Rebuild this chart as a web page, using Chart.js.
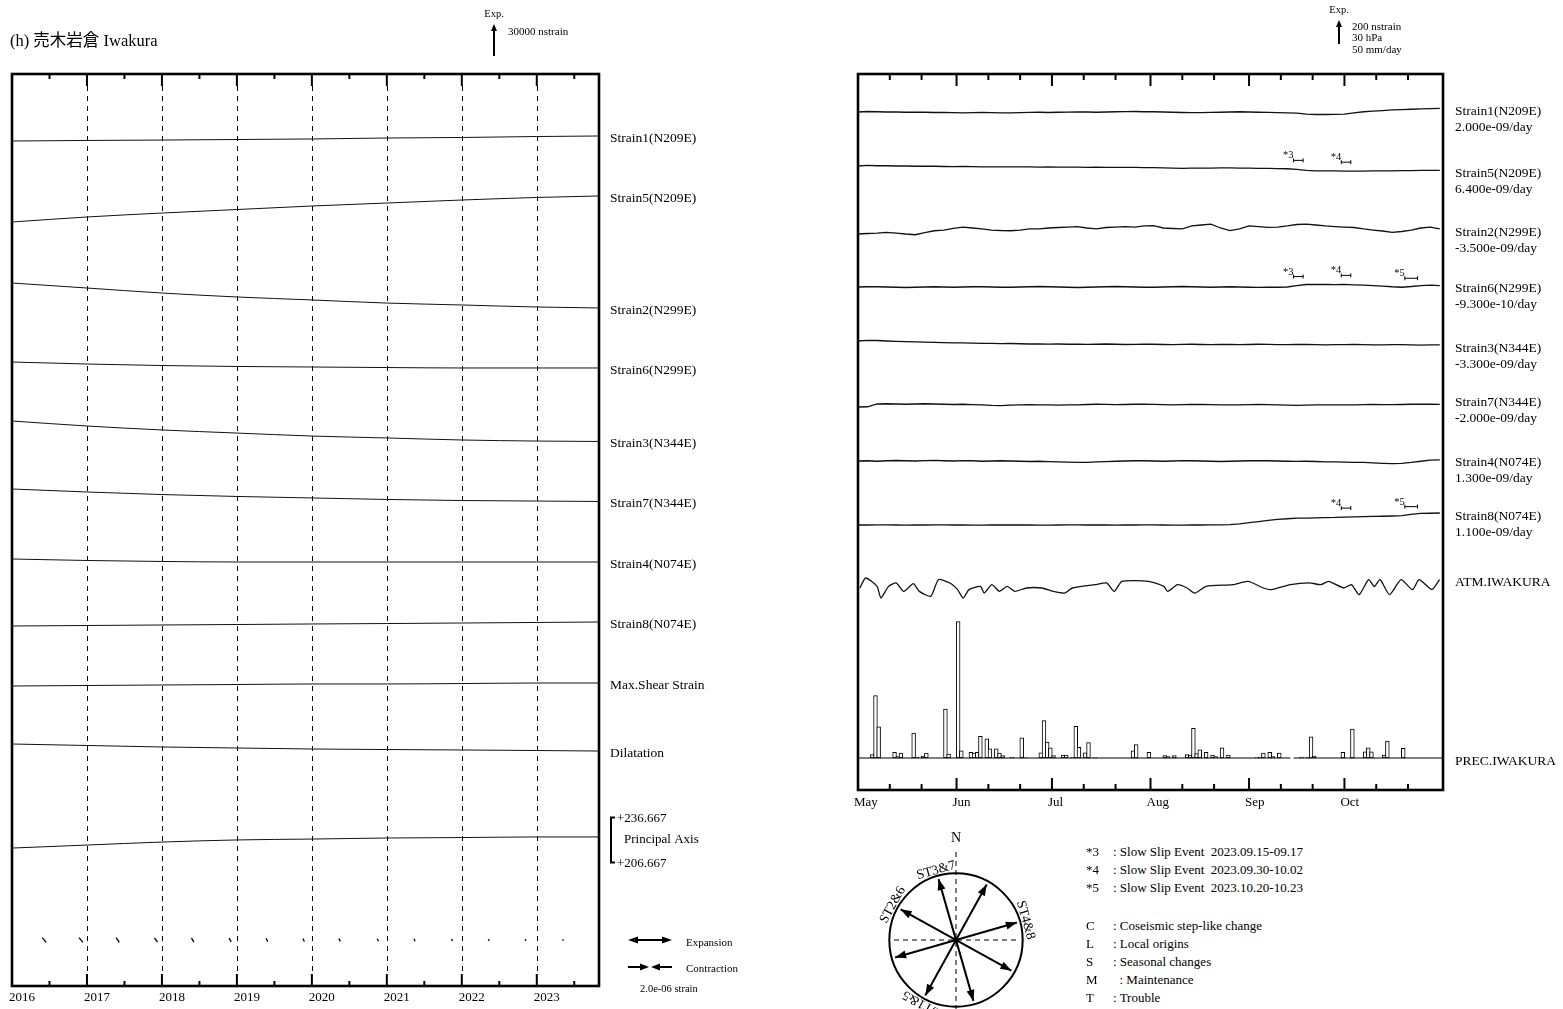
<!DOCTYPE html>
<html><head><meta charset="utf-8">
<script src="https://cdn.jsdelivr.net/npm/chart.js@4.4.0/dist/chart.umd.min.js"></script>
<style>
html,body{margin:0;padding:0;background:#fff;overflow:hidden;width:1563px;height:1009px;}
#wrap{position:relative;width:1563px;height:1009px;overflow:hidden;font-family:"Liberation Serif","Noto Sans CJK JP",serif;color:#000;}
.abs{position:absolute;white-space:nowrap;}
canvas{position:absolute;}
</style></head><body><div id="wrap">
<canvas id="left" width="780" height="1020" style="left:0;top:0"></canvas>
<canvas id="right" width="763" height="830" style="left:800px;top:0"></canvas>
<canvas id="compass" width="200" height="240" style="left:856px;top:820px"></canvas>
<div class="abs" style="left:10px;top:27px;font-size:16.5px;">(h) 売木岩倉 Iwakura</div>
<svg class="abs" style="left:620px;top:925px" width="70" height="55">
  <line x1="12" y1="15" x2="48" y2="15" stroke="#000" stroke-width="2"/>
  <polygon points="8,15 18,11.5 18,18.5" fill="#000"/>
  <polygon points="52,15 42,11.5 42,18.5" fill="#000"/>
  <line x1="8" y1="42" x2="24" y2="42" stroke="#000" stroke-width="2"/>
  <polygon points="29,42 20,38.5 20,45.5" fill="#000"/>
  <line x1="36" y1="42" x2="52" y2="42" stroke="#000" stroke-width="2"/>
  <polygon points="31,42 40,38.5 40,45.5" fill="#000"/>
</svg>
<div class="abs" style="left:686px;top:936px;font-size:11px;">Expansion</div>
<div class="abs" style="left:686px;top:962px;font-size:11px;">Contraction</div>
<div class="abs" style="left:640px;top:983px;font-size:10.5px;">2.0e-06 strain</div>
<div class="abs" style="left:1086px;top:843px;font-size:13px;line-height:18px;">*3<br>*4<br>*5</div>
<div class="abs" style="left:1113px;top:843px;font-size:13px;line-height:18px;">: Slow Slip Event&nbsp; 2023.09.15-09.17<br>: Slow Slip Event&nbsp; 2023.09.30-10.02<br>: Slow Slip Event&nbsp; 2023.10.20-10.23</div>
<div class="abs" style="left:1086px;top:917px;font-size:13px;line-height:18px;">C<br>L<br>S<br>M<br>T</div>
<div class="abs" style="left:1113px;top:917px;font-size:13px;line-height:18px;">: Coseismic step-like change<br>: Local origins<br>: Seasonal changes<br>&nbsp;&nbsp;: Maintenance<br>: Trouble</div>
</div>
<script>
// ================= DATA =================
// ---- Left panel (long term, 2016 - 2023.10), values in nstrain relative to start
const leftYears      = [2016, 2017, 2018, 2019, 2020, 2021, 2022, 2023, 2023.83];
const leftStrain1    = [0, 500, 900, 1400, 1900, 2800, 3300, 4200, 4700];
const leftStrain5    = [0, 4700, 8400, 11700, 15000, 17800, 20600, 23000, 24400];
const leftStrain2    = [0, -4700, -9400, -13100, -15900, -18800, -20600, -22500, -23400];
const leftStrain6    = [0, -1900, -3300, -4200, -4700, -5200, -5600, -5600, -5600];
const leftStrain3    = [0, -4700, -8400, -11300, -14100, -15900, -17800, -18800, -19200];
const leftStrain7    = [0, -2800, -5200, -7000, -8400, -9800, -10800, -11300, -11700];
const leftStrain4    = [0, -1400, -2300, -2800, -2800, -2800, -2800, -2800, -2800];
const leftStrain8    = [0, 470, 940, 1400, 1900, 2300, 2800, 3300, 3750];
const leftMaxShear   = [0, 470, 940, 1400, 1900, 1900, 2300, 2800, 2800];
const leftDilatation = [0, -1400, -2800, -3750, -4700, -5200, -5600, -6100, -6600];
const leftPrincipal  = [216.3, 218.3, 220.3, 221.7, 222.3, 223.0, 223.3, 223.7, 223.7]; // degrees
const leftNames = ['Strain1(N209E)','Strain5(N209E)','Strain2(N299E)','Strain6(N299E)','Strain3(N344E)',
                   'Strain7(N344E)','Strain4(N074E)','Strain8(N074E)','Max.Shear Strain','Dilatation'];
const yearTicks = [2016, 2017, 2018, 2019, 2020, 2021, 2022, 2023];
const paTop = 236.667, paBottom = 206.667;
// principal strain marks
const psYears = [2016.43, 2016.92, 2017.41, 2017.92, 2018.41, 2018.91, 2019.40, 2019.89, 2020.37, 2020.88, 2021.37, 2021.87, 2022.36, 2022.85, 2023.35];
const psMag   = [2.9e-7, 2.8e-7, 2.5e-7, 2.4e-7, 2.2e-7, 2.0e-7, 1.8e-7, 1.6e-7, 1.5e-7, 1.3e-7, 1.2e-7, 1.1e-7, 1.0e-7, 0.9e-7, 0.8e-7];
const psAz    = [140, 140, 145, 145, 150, 150, 155, 155, 150, 150, 155, 155, 150, 150, 160];

// ---- Right panel (2023-05-01 .. 2023-10-31), day 0 = May 1; strain samples every 3 days, nstrain
const sampleStep = 3;
const rStrain1 = [0,4,2,0,0,-2,-2,-2,-4,-3,-5,-7,-5,-4,-6,-7,-7,-5,-3,-2,-4,-2,-1,1,0,-2,0,2,3,4,2,2,0,-2,-4,-6,-5,-3,-2,0,2,0,-2,-3,-5,-7,-10,-18,-21,-21,-19,-17,-8,2,8,12,17,20,23,26,28,30];
const rStrain5 = [0,6,2,2,0,0,-2,-2,-2,-4,-5,-4,-5,-7,-7,-7,-8,-7,-8,-9,-8,-9,-10,-10,-11,-10,-11,-12,-12,-12,-13,-14,-16,-17,-19,-18,-17,-17,-16,-15,-17,-18,-19,-20,-22,-23,-28,-37,-40,-40,-41,-43,-42,-42,-41,-41,-40,-39,-38,-37,-37,-36];
const rStrain2 = [0,4,8,14,8,0,-6,12,27,33,46,58,50,42,33,29,27,33,42,42,50,54,58,61,50,42,54,58,61,58,67,69,50,46,42,67,75,83,50,29,42,67,62,56,58,67,79,83,75,67,62,58,54,42,33,25,14,21,33,50,58,42];
const rStrain6 = [0,2,2,0,-2,-4,-2,0,2,0,-2,0,2,2,0,-2,-2,0,2,4,2,0,-2,-4,-2,0,2,4,2,0,-2,-2,0,2,4,2,0,-2,0,2,0,-2,-3,-2,-2,0,12,21,22,21,19,22,18,15,12,8,2,-2,4,12,15,12];
const rStrain3 = [0,6,4,0,-3,-6,-8,-10,-12,-14,-16,-15,-18,-20,-19,-22,-21,-23,-25,-24,-26,-25,-27,-26,-28,-27,-25,-27,-29,-28,-26,-27,-29,-30,-28,-27,-29,-31,-29,-28,-30,-29,-27,-28,-30,-31,-29,-28,-30,-32,-31,-30,-29,-31,-33,-32,-30,-31,-33,-34,-32,-33];
const rStrain7 = [-25,-23,0,2,0,-2,0,2,0,-2,-4,-2,-5,-8,-12,-13,-10,-7,-5,-7,-8,-10,-8,-7,-4,-2,-3,-5,-4,-2,-2,-3,-5,-7,-6,-4,-3,-5,-7,-7,-7,-5,-4,-6,-7,-9,-11,-10,-8,-7,-7,-8,-7,-5,-4,-5,-6,-4,-2,-2,-2,-3];
const rStrain4 = [0,2,-2,2,4,2,0,3,5,2,0,3,2,-2,0,2,0,-2,-4,-2,-5,-7,-10,-12,-11,-7,-5,-2,0,2,2,0,-2,0,3,2,0,-2,-4,-2,0,2,3,2,0,-2,-3,-2,-4,-7,-8,-10,-11,-12,-15,-19,-22,-20,-12,-2,7,10];
const rStrain8 = [0,0,1,1,0,-1,0,0,1,1,0,0,-1,-1,0,0,1,0,0,-1,-1,0,1,1,0,0,0,-1,0,0,1,1,0,-1,-1,0,0,1,1,3,10,19,29,38,47,52,57,58,60,62,63,66,68,70,72,73,75,78,88,97,98,100];
const rightNames = ['Strain1(N209E)','Strain5(N209E)','Strain2(N299E)','Strain6(N299E)','Strain3(N344E)','Strain7(N344E)','Strain4(N074E)','Strain8(N074E)'];
const rightRates = ['2.000e-09/day','6.400e-09/day','-3.500e-09/day','-9.300e-10/day','-3.300e-09/day','-2.000e-09/day','1.300e-09/day','1.100e-09/day'];
// atmospheric pressure (hPa, relative)
const atmDays = [0.6,2.4,6,7.2,9.6,12,14.4,17.4,19.3,22.9,25.3,28.9,31.3,33.1,34.9,38.5,39.7,42.1,44.5,46.9,49.3,53,57.8,61.4,65,67.4,74.6,78.2,80.6,83,91.4,96.2,97.4,100.5,103.5,105.9,109.5,117.9,122.7,127.5,130,136,142,145.6,148,152.8,155.2,157.6,160.6,162.4,164.2,167.2,170.8,174.4,176.5,180.5,182.9];
const atmHpa  = [0,12.5,2,-12.5,2,6.3,-4.2,5.4,-4.2,-10.4,10.4,6.3,-2,-12.5,-2,2,-6.3,4.2,-4.2,2,-4.2,0,0,-4.2,-6.3,0,4.2,6.3,-4.2,8.3,8.3,2,-4.2,4.2,0,-6.3,2,4.2,8.3,0,-2,4.2,6.3,4.2,8.3,0,4.2,-8.3,10.4,2,10.4,-8.3,10.4,-2,10.4,-2,10.4];
// daily precipitation (mm/day)
const precDays = [4,5,6,11,12,13,17,18,20,21,27,28,31,32,35,36,37,38,40,41,43,44,45,48,51,52,57,58,59,60,61,64,65,67,68,69,71,72,74,86,87,91,96,97,99,103,104,105,106,107,109,111,112,114,116,125,126,127,129,130,132,139,141,142,143,152,155,159,160,161,165,166,171];
const precMm   = [7,130,65,12,3,10,52,2,4,10,102,8,284,15,12,10,12,45,40,19,19,10,5,2,42,1,11,78,33,21,5,6,6,2,66,22,11,32,1,15,28,12,5,3,5,7,6,62,9,17,12,6,3,21,6,1,2,10,12,3,10,2,2,44,4,12,60,13,21,13,6,35,20];
const precMissingDay = 136.5;
const monthStartDays = [0, 31, 61, 92, 123, 153];
const monthNames = ['May','Jun','Jul','Aug','Sep','Oct'];
const minorDays = [10,20,41,51,71,81,102,112,133,143,163,173];
const eventNames = ['*3','*4','*5'];
const eventStart = [137, 152, 172];
const eventEnd   = [140, 155, 176];
const eventOnTrace = {1:[0,1], 3:[0,1,2], 7:[1,2]};
const compassAz = [209, 299, 344, 74];
const compassNames = ['ST1&5','ST2&6','ST3&7','ST4&8'];

// ================= LAYOUT / SCALE FACTORS =================
const NS_L = 30000/32;    // nstrain per px (left scale bar)
const DEG_L = 30/45;      // degrees per px (principal axis bracket)
const NS_R = 200/24;      // nstrain per px (right scale bar)
const HPA_R = 30/24;
const MM_R = 50/24;
const LEG_STRAIN = 2.0e-6, LEG_PX = 44;
const leftRows = [67,148,209,288,347,415,485,552,612,670];
const LEFT_PA_ROW = 766, LEFT_PS_ROW = 866, PA_MID = (paTop+paBottom)/2;
const rightRows = [38,92,160,213,267,330,387,451];
const rightLabelShift = [3,3,3,3,3,-2,3,3];
const ATM_ROW = 514, PREC_ROW = 684;
const FONT = '"Liberation Serif", serif';
Chart.defaults.font.family = FONT;
const rad = d => d*Math.PI/180;

function head(ctx, x1, y1, x2, y2, len, half){
  const a = Math.atan2(y2-y1, x2-x1), c = Math.cos(a), s = Math.sin(a);
  ctx.beginPath(); ctx.moveTo(x2, y2);
  ctx.lineTo(x2-len*c+half*s, y2-len*s-half*c);
  ctx.lineTo(x2-len*c-half*s, y2-len*s+half*c);
  ctx.closePath(); ctx.fill();
}
function seg(ctx, x1, y1, x2, y2){ ctx.beginPath(); ctx.moveTo(x1,y1); ctx.lineTo(x2,y2); ctx.stroke(); }
function frameTicks(ctx, a, xs, majors, minors, majLen, minLen){
  ctx.save(); ctx.strokeStyle = '#000'; ctx.lineWidth = 2;
  for (const v of majors){ const p = xs.getPixelForValue(v); seg(ctx,p,a.top,p,a.top+majLen); seg(ctx,p,a.bottom,p,a.bottom-majLen); }
  for (const v of minors){ const p = xs.getPixelForValue(v); seg(ctx,p,a.top,p,a.top+minLen); seg(ctx,p,a.bottom,p,a.bottom-minLen); }
  ctx.lineWidth = 2.6; ctx.strokeRect(a.left, a.top, a.right-a.left, a.bottom-a.top);
  ctx.restore();
}
function scaleArrow(ctx, x, base, len, label, lines, tx, ty0, dy){
  ctx.save(); ctx.fillStyle='#000'; ctx.strokeStyle='#000'; ctx.lineWidth=2;
  seg(ctx, x, base, x, base-len+5); head(ctx, x, base, x, base-len, 7, 3);
  ctx.font = '10.5px '+FONT; ctx.textAlign='center'; ctx.textBaseline='middle';
  ctx.fillText(label, x, base-len-10);
  ctx.font = '11px '+FONT; ctx.textAlign='left';
  lines.forEach((t,i)=>ctx.fillText(t, tx, ty0+i*dy));
  ctx.restore();
}

// ================= LEFT CHART =================
const leftSeries = [leftStrain1,leftStrain5,leftStrain2,leftStrain6,leftStrain3,leftStrain7,leftStrain4,leftStrain8,leftMaxShear,leftDilatation];
const leftDatasets = leftSeries.map((vals,i)=>({
  data: vals.map((v,j)=>({x:leftYears[j], y:-leftRows[i]+v/NS_L})),
  borderColor:'#111', borderWidth:1, pointRadius:0, cubicInterpolationMode:'monotone', fill:false
}));
leftDatasets.push({
  data: leftPrincipal.map((v,j)=>({x:leftYears[j], y:-LEFT_PA_ROW+(v-PA_MID)/DEG_L})),
  borderColor:'#111', borderWidth:1, pointRadius:0, cubicInterpolationMode:'monotone', fill:false
});
const yearMinors = yearTicks.map(y=>y+0.5);

const leftDeco = {
  id:'leftDeco',
  beforeDatasetsDraw(chart){
    const {ctx, chartArea:a, scales:{x}} = chart;
    ctx.save(); ctx.strokeStyle='#000'; ctx.lineWidth=1; ctx.setLineDash([5,5]);
    for (const yr of yearTicks){ if (yr<=x.min) continue; const p=Math.round(x.getPixelForValue(yr))+0.5; seg(ctx,p,a.top+12,p,a.bottom-12); }
    ctx.restore();
  },
  afterDraw(chart){
    const {ctx, chartArea:a, scales:{x,y}} = chart;
    frameTicks(ctx, a, x, yearTicks.filter(v=>v>x.min), yearMinors, 12, 5);
    ctx.save(); ctx.fillStyle='#000'; ctx.strokeStyle='#000';
    ctx.font='13.5px '+FONT; ctx.textBaseline='middle'; ctx.textAlign='left';
    leftNames.forEach((n,i)=>{ const pts=chart.getDatasetMeta(i).data; ctx.fillText(n, a.right+11, pts[pts.length-1].y+2); });
    // principal axis bracket
    const yT = y.getPixelForValue(-LEFT_PA_ROW+(paTop-PA_MID)/DEG_L), yB = y.getPixelForValue(-LEFT_PA_ROW+(paBottom-PA_MID)/DEG_L);
    const bx = a.right+12; ctx.lineWidth=2;
    ctx.beginPath(); ctx.moveTo(bx+4,yT); ctx.lineTo(bx,yT); ctx.lineTo(bx,yB); ctx.lineTo(bx+4,yB); ctx.stroke();
    ctx.font='13px '+FONT;
    ctx.fillText('+'+paTop.toFixed(3), bx+6, yT+1);
    ctx.fillText('Principal Axis', bx+13, (yT+yB)/2);
    ctx.fillText('+'+paBottom.toFixed(3), bx+6, yB+1);
    // principal strain marks
    ctx.lineWidth=1.3;
    psYears.forEach((yr,i)=>{
      const cx=x.getPixelForValue(yr), cy=y.getPixelForValue(-LEFT_PS_ROW);
      const h=psMag[i]/LEG_STRAIN*LEG_PX/2, dx=Math.sin(rad(psAz[i]))*h, dy=-Math.cos(rad(psAz[i]))*h;
      seg(ctx,cx-dx,cy-dy,cx+dx,cy+dy);
    });
    ctx.restore();
    const len = y.getPixelForValue(0)-y.getPixelForValue(30000/NS_L);
    scaleArrow(ctx, 494, 56, len, 'Exp.', ['30000 nstrain'], 508, 32, 12);
  }
};

new Chart(document.getElementById('left'), {
  type:'line',
  data:{datasets:leftDatasets},
  options:{
    responsive:false, animation:false, events:[],
    layout:{padding:{left:12, top:74, right:181, bottom:10.4}},
    plugins:{legend:{display:false}, tooltip:{enabled:false}},
    scales:{
      x:{type:'linear', min:2016, max:2023.83,
         afterBuildTicks:s=>{ s.ticks = yearTicks.map(v=>({value:v})); },
         ticks:{autoSkip:false, maxRotation:0, align:'start', labelOffset:-3, padding:4, color:'#000', font:{size:13}, callback:v=>String(v)},
         grid:{display:false, drawTicks:false}, border:{display:false}},
      y:{display:false, min:-912, max:0}
    }
  },
  plugins:[leftDeco]
});

// ================= RIGHT CHART =================
const rightSeries = [rStrain1,rStrain5,rStrain2,rStrain6,rStrain3,rStrain7,rStrain4,rStrain8];
const rightDatasets = rightSeries.map((vals,i)=>({
  type:'line',
  data: vals.map((v,j)=>({x:j*sampleStep, y:-rightRows[i]+v/NS_R})),
  borderColor:'#111', borderWidth:1.3, pointRadius:0, tension:0, fill:false
}));
rightDatasets.push({type:'line', data: atmDays.map((d,j)=>({x:d, y:-ATM_ROW+atmHpa[j]/HPA_R})),
  borderColor:'#111', borderWidth:1.3, pointRadius:0, tension:0.2, fill:false});
rightDatasets.push({type:'line', data:[{x:0,y:-PREC_ROW},{x:precMissingDay-0.5,y:-PREC_ROW},{x:precMissingDay,y:null},{x:precMissingDay+0.5,y:-PREC_ROW},{x:184,y:-PREC_ROW}],
  borderColor:'#000', borderWidth:1, pointRadius:0, spanGaps:false, fill:false});
rightDatasets.push({type:'bar', data: precDays.map((d,j)=>({x:d+0.5, y:[-PREC_ROW, -PREC_ROW+precMm[j]/MM_R]})),
  backgroundColor:'#fff', borderColor:'#000', borderWidth:1, borderSkipped:false, barThickness:3.8, grouped:false});

const rightDeco = {
  id:'rightDeco',
  afterDraw(chart){
    const {ctx, chartArea:a, scales:{x,y}} = chart;
    frameTicks(ctx, a, x, monthStartDays.filter(v=>v>x.min), minorDays, 12, 6);
    ctx.save(); ctx.fillStyle='#000'; ctx.strokeStyle='#000';
    ctx.font='13.5px '+FONT; ctx.textBaseline='middle'; ctx.textAlign='left';
    rightNames.forEach((n,i)=>{
      const pts=chart.getDatasetMeta(i).data, ly=pts[pts.length-1].y+rightLabelShift[i];
      ctx.fillText(n, a.right+12, ly); ctx.fillText(rightRates[i], a.right+12, ly+16);
    });
    const atmPts = chart.getDatasetMeta(8).data;
    ctx.fillText('ATM.IWAKURA', a.right+12, atmPts[atmPts.length-1].y+3);
    ctx.fillText('PREC.IWAKURA', a.right+12, y.getPixelForValue(-PREC_ROW)+3);
    // slow slip event markers
    ctx.font='10.5px '+FONT; ctx.textAlign='right'; ctx.textBaseline='alphabetic'; ctx.lineWidth=1;
    for (const [ti, evs] of Object.entries(eventOnTrace)){
      const vals = rightSeries[ti];
      for (const e of evs){
        const idx = Math.min(vals.length-1, Math.round(eventStart[e]/sampleStep));
        const py = y.getPixelForValue(-rightRows[ti]+vals[idx]/NS_R) - 9;
        const x0 = x.getPixelForValue(eventStart[e]), x1 = x.getPixelForValue(eventEnd[e]);
        seg(ctx, x0, py, x1, py); seg(ctx, x0, py-2, x0, py+2); seg(ctx, x1, py-2, x1, py+2);
        ctx.fillText(eventNames[e], x0, py-2);
      }
    }
    ctx.restore();
    const len = y.getPixelForValue(0)-y.getPixelForValue(200/NS_R);
    scaleArrow(ctx, 539, 44, len, 'Exp.', ['200 nstrain','30 hPa','50 mm/day'], 552, 27, 11.5);
  }
};

new Chart(document.getElementById('right'), {
  type:'line',
  data:{datasets:rightDatasets},
  options:{
    responsive:false, animation:false, events:[],
    layout:{padding:{left:58, top:74, right:120, bottom:14.4}},
    plugins:{legend:{display:false}, tooltip:{enabled:false}},
    scales:{
      x:{type:'linear', min:0, max:184, offset:false,
         afterBuildTicks:s=>{ s.ticks = monthStartDays.map(v=>({value:v})); },
         ticks:{autoSkip:false, maxRotation:0, align:'start', labelOffset:-4, padding:5, color:'#000', font:{size:13},
                callback:(v,i)=>monthNames[i]},
         grid:{display:false, drawTicks:false}, border:{display:false}},
      y:{display:false, min:-716, max:0}
    }
  },
  plugins:[rightDeco]
});

// ================= COMPASS =================
const ARM = 0.95;
const compassDatasets = compassAz.map(az=>({
  data:[{x:Math.sin(rad(az))*ARM, y:Math.cos(rad(az))*ARM},{x:-Math.sin(rad(az))*ARM, y:-Math.cos(rad(az))*ARM}],
  showLine:true, borderColor:'#000', borderWidth:2, pointRadius:0
}));
const compassDeco = {
  id:'compassDeco',
  beforeDatasetsDraw(chart){
    const {ctx, scales:{x,y}} = chart;
    const cx=x.getPixelForValue(0), cy=y.getPixelForValue(0), r=x.getPixelForValue(1)-cx;
    ctx.save(); ctx.strokeStyle='#000'; ctx.lineWidth=1; ctx.setLineDash([5,4]);
    seg(ctx, cx, y.getPixelForValue(1.32), cx, y.getPixelForValue(-1.8));
    seg(ctx, x.getPixelForValue(-0.93), cy, x.getPixelForValue(0.93), cy);
    ctx.setLineDash([]); ctx.lineWidth=2;
    ctx.beginPath(); ctx.arc(cx, cy, r, 0, Math.PI*2); ctx.stroke();
    ctx.fillStyle='#000'; ctx.font='14px '+FONT; ctx.textAlign='center'; ctx.textBaseline='middle';
    ctx.fillText('N', cx, y.getPixelForValue(1.53));
    ctx.font='13.5px '+FONT; ctx.textBaseline='bottom';
    compassAz.forEach((az,i)=>{
      ctx.save(); ctx.translate(cx,cy); ctx.rotate(rad(az)); ctx.fillText(compassNames[i], 0, -r+1); ctx.restore();
    });
    ctx.restore();
  },
  afterDatasetsDraw(chart){
    const {ctx} = chart;
    ctx.save(); ctx.fillStyle='#000';
    chart.data.datasets.forEach((ds,i)=>{
      const p = chart.getDatasetMeta(i).data;
      const c = {x:(p[0].x+p[1].x)/2, y:(p[0].y+p[1].y)/2};
      head(ctx, c.x, c.y, p[0].x, p[0].y, 11, 4);
      head(ctx, c.x, c.y, p[1].x, p[1].y, 11, 4);
    });
    ctx.restore();
  }
};
new Chart(document.getElementById('compass'), {
  type:'scatter',
  data:{datasets:compassDatasets},
  options:{
    responsive:false, animation:false, events:[],
    layout:{padding:0},
    plugins:{legend:{display:false}, tooltip:{enabled:false}},
    scales:{x:{display:false, min:-1.5, max:1.5}, y:{display:false, min:-1.8, max:1.8}}
  },
  plugins:[compassDeco]
});
</script>
</body></html>
